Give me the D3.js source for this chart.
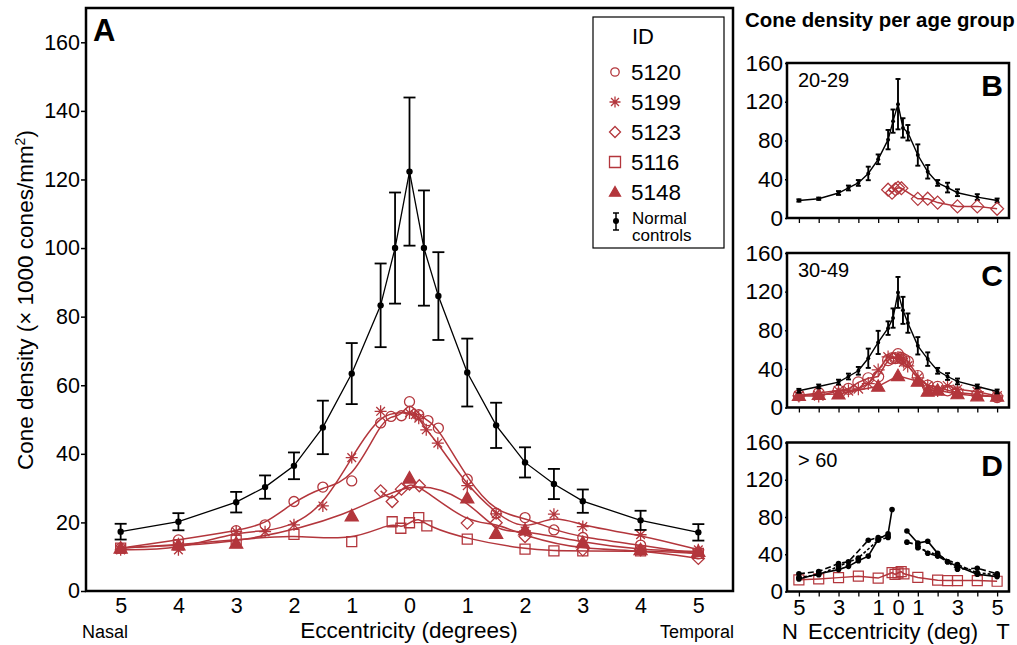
<!DOCTYPE html>
<html>
<head>
<meta charset="utf-8">
<script src="https://cdn.jsdelivr.net/npm/d3@7"></script>
<style>
body { margin: 0; background: #fff; }
text { font-family: "Liberation Sans", Arial, sans-serif; }
</style>
</head>
<body>
<div id="vis"></div>
<script>
var red = "#b3363c";

// normal controls, panel A (eccentricity in deg, nasal negative)
var ctlEcc = [-5, -4, -3, -2.5, -2, -1.5, -1, -0.5, -0.25, 0, 0.25, 0.5, 1, 1.5, 2, 2.5, 3, 4, 5];
var ctlA   = [17.3, 20.2, 25.9, 30.3, 36.5, 47.7, 63.4, 83.3, 100, 122.3, 100, 86, 63.7, 48.3, 37.5, 31.2, 26.2, 20.6, 17.1];
var ctlASd = [2.3, 2.5, 3, 3.4, 3.9, 7.8, 8.9, 12.2, 16.2, 21.6, 16.8, 12.8, 9.9, 6.6, 4.4, 4.4, 3.4, 2.8, 2.4];

// age groups
var ctlB   = [18.1, 19.9, 25.8, 31, 36.2, 46, 60.6, 80.9, 100, 117.5, 93, 88, 65, 47.7, 36.2, 31.4, 26.1, 21.6, 18.1];
var ctlBSd = [1.2, 1.2, 2, 2.5, 3, 7, 5, 10, 12, 26, 10, 8, 11, 7, 3, 5, 3.5, 3, 2];
var ctlC   = [17.3, 21.8, 26.3, 32.1, 38, 51, 67.4, 82.2, 92.6, 119.2, 100.6, 87.4, 63.9, 50.1, 38, 32.1, 27, 21.8, 16.6];
var ctlCSd = [2, 2, 2.5, 3, 4, 10, 12, 7, 10, 16, 14, 10, 9, 7, 3, 3.5, 3, 2, 2];

// > 60 controls (gap at the fovea)
var dSolidEcc = [-5, -4, -3, -2.5, -2, -1.5, -1, -0.5, -0.3, 0, 0.45, 1, 1.5, 2, 2.5, 3, 4, 5];
var dSolidVal = [13.5, 19, 23.5, 27, 33, 38, 56, 62, 88, null, 65, 52, 54, 41, 32, 27, 18.5, 16];
var dDashEcc  = [-5, -4, -3, -2.5, -1.5, -1, -0.5, 0, 0.45, 1, 1.5, 2, 2.5, 3, 4, 5];
var dDashVal  = [19, 21.5, 30, 32, 55, 58, 59.5, null, 53, 50, 41, 38, 32, 24, 25, 19];
var dDotEcc   = [-5, -4, -3, -2, -1, -0.5, 0, 1, 2, 3, 4, 5];
var dDotVal   = [15, 18, 27, 36, 55, 58, null, 47, 39, 29, 20, 18];

// patients
var s5120Ecc = [-5, -4, -3, -2.5, -2, -1.5, -1, -0.5, -0.32, -0.14, 0, 0.16, 0.32, 0.5, 1, 1.5, 2, 2.5, 3, 4, 5];
var s5120Val = [12.5, 14.9, 17.6, 19.3, 26.1, 30.3, 32.1, 49, 50.9, 51.1, 55.2, 51.4, 49.7, 47.5, 32.6, 22.7, 21.4, 17.8, 15.6, 13.4, 10.8];
var s5199Ecc = [-5, -4, -3, -2.5, -2, -1.5, -1, -0.5, 0, 0.1, 0.16, 0.29, 0.49, 1, 1.5, 2, 2.5, 3, 4, 5];
var s5199Val = [12, 12, 17.3, 17.3, 19.3, 24.8, 38.9, 52.4, 51.9, 51.4, 50.4, 47, 43.1, 30.7, 22.5, 17.5, 22.4, 18.8, 16.4, 12];
var s5123Ecc = [-0.5, -0.3, -0.14, 0, 0.17, 1, 1.5, 2, 3, 4, 5];
var s5123Val = [29.2, 26.1, 29.7, 31.2, 30.7, 19.8, 19.9, 15.9, 12, 12, 9.5];
var s5116Ecc = [-5, -4, -3, -2, -1, -0.3, -0.15, 0, 0.16, 0.3, 1, 2, 2.5, 3, 4, 5];
var s5116Val = [12.5, 13.5, 14.9, 16.5, 14.4, 20.2, 18.3, 19.9, 21.4, 19, 15.1, 12.2, 11.7, 11.7, 11.7, 11];
var s5148Ecc = [-5, -4, -3, -1, 0, 1, 1.5, 2, 3, 4, 5];
var s5148Val = [12.5, 13.4, 13.9, 21.9, 32.9, 27.1, 16.8, 17.8, 14.1, 12, 11.5];

var legendIds = ["5120", "5199", "5123", "5116", "5148"];
var legendSym = ["circle", "star", "diamond", "square", "triangle"];
var yTicksA = [0, 20, 40, 60, 80, 100, 120, 140, 160];
var yTicksSmall = [0, 40, 80, 120, 160];
var xTicks = [-5, -4, -3, -2, -1, 0, 1, 2, 3, 4, 5];
var xLabelsD = [-5, -3, -1, 0, 1, 3, 5];

function pts(ecc, val, sd) {
    return ecc.map(function(e, i) { return {x: e, y: val[i], sd: sd ? sd[i] : 0}; });
}

// marker shapes, s = half size
function symPath(type, s) {
    if (type == "circle") return "M" + s + ",0A" + s + "," + s + " 0 1,1 " + (-s) + ",0A" + s + "," + s + " 0 1,1 " + s + ",0Z";
    if (type == "square") return "M" + (-s) + "," + (-s) + "h" + 2 * s + "v" + 2 * s + "h" + (-2 * s) + "Z";
    if (type == "diamond") return "M0," + (-s) + "L" + s + ",0L0," + s + "L" + (-s) + ",0Z";
    if (type == "triangle") return "M0," + (-s) + "L" + s + "," + s * 0.75 + "L" + (-s) + "," + s * 0.75 + "Z";
    var d = s * 0.72;
    return "M0," + (-s) + "V" + s + "M" + (-s) + ",0H" + s +
           "M" + (-d) + "," + (-d) + "L" + d + "," + d + "M" + d + "," + (-d) + "L" + (-d) + "," + d;
}

var w = 1017, h = 645;
var svg = d3.select("#vis").append("svg").attr("width", w).attr("height", h);

/*****************
 PANEL A
*****************/
var x = d3.scaleLinear().domain([-5.6, 5.6]).range([86, 733]);
var y = d3.scaleLinear().domain([0, 170]).range([591, 8]);
var gA = svg.append("g");

gA.append("g")
  .attr("transform", "translate(86,0)")
  .call(d3.axisLeft(y).tickValues(yTicksA).tickSize(5).tickPadding(1))
  .call(function(g) { g.select(".domain").remove(); })
  .selectAll("text").attr("font-size", 21.5).attr("fill", "#000");
gA.append("g")
  .attr("transform", "translate(0,591)")
  .call(d3.axisBottom(x).tickValues(xTicks).tickSize(0).tickPadding(7).tickFormat(function(d) { return Math.abs(d); }))
  .call(function(g) { g.select(".domain").remove(); })
  .selectAll("text").attr("font-size", 21.5).attr("fill", "#000");
gA.selectAll(".tick line").attr("stroke", "#000").attr("stroke-width", 1.5);

gA.append("rect").attr("x", 86).attr("y", 8).attr("width", 733 - 86).attr("height", 591 - 8)
  .attr("fill", "none").attr("stroke", "#000").attr("stroke-width", 2.5);

gA.append("text").attr("x", 93).attr("y", 41).attr("font-size", 31).attr("font-weight", "bold").text("A");

var yt = gA.append("text").attr("transform", "translate(33,300) rotate(-90)")
  .attr("text-anchor", "middle").attr("font-size", 22.5);
yt.append("tspan").text("Cone density (× 1000 cones/mm");
yt.append("tspan").attr("font-size", 14).attr("dy", -8).text("2");
yt.append("tspan").attr("dy", 8).text(")");

gA.append("text").attr("x", 409).attr("y", 638).attr("text-anchor", "middle").attr("font-size", 22.5).text("Eccentricity (degrees)");
gA.append("text").attr("x", 82).attr("y", 638).attr("font-size", 18).text("Nasal");
gA.append("text").attr("x", 734).attr("y", 638).attr("text-anchor", "end").attr("font-size", 18).text("Temporal");

var smooth = d3.line().x(function(d) { return x(d.x); }).y(function(d) { return y(d.y); }).curve(d3.curveBasis);

var patients = [
    {type: "circle", data: pts(s5120Ecc, s5120Val), s: 5},
    {type: "star", data: pts(s5199Ecc, s5199Val), s: 6},
    {type: "diamond", data: pts(s5123Ecc, s5123Val), s: 6},
    {type: "square", data: pts(s5116Ecc, s5116Val), s: 5},
    {type: "triangle", data: pts(s5148Ecc, s5148Val), s: 6.5}
];

patients.forEach(function(p) {
    gA.append("path").datum(p.data).attr("d", smooth)
      .attr("fill", "none").attr("stroke", red).attr("stroke-width", 1.5);
});
patients.forEach(function(p) {
    gA.selectAll(null).data(p.data).enter().append("path")
      .attr("transform", function(d) { return "translate(" + x(d.x) + "," + y(d.y) + ")"; })
      .attr("d", symPath(p.type, p.s))
      .attr("fill", p.type == "triangle" ? red : "none")
      .attr("stroke", red).attr("stroke-width", 1.3);
});

// controls with SD bars
function drawControls(g, data, xs, ys, cap, r, sw) {
    var ln = d3.line().x(function(d) { return xs(d.x); }).y(function(d) { return ys(d.y); });
    g.append("path").datum(data).attr("d", ln).attr("fill", "none").attr("stroke", "#000").attr("stroke-width", sw);
    var bars = g.selectAll(null).data(data).enter().append("g").attr("stroke", "#000").attr("stroke-width", sw + 0.5);
    bars.append("line")
        .attr("x1", function(d) { return xs(d.x); }).attr("x2", function(d) { return xs(d.x); })
        .attr("y1", function(d) { return ys(d.y - d.sd); }).attr("y2", function(d) { return ys(d.y + d.sd); });
    bars.append("line")
        .attr("x1", function(d) { return xs(d.x) - cap; }).attr("x2", function(d) { return xs(d.x) + cap; })
        .attr("y1", function(d) { return ys(d.y + d.sd); }).attr("y2", function(d) { return ys(d.y + d.sd); });
    bars.append("line")
        .attr("x1", function(d) { return xs(d.x) - cap; }).attr("x2", function(d) { return xs(d.x) + cap; })
        .attr("y1", function(d) { return ys(d.y - d.sd); }).attr("y2", function(d) { return ys(d.y - d.sd); });
    g.selectAll(null).data(data).enter().append("circle")
        .attr("cx", function(d) { return xs(d.x); }).attr("cy", function(d) { return ys(d.y); })
        .attr("r", r).attr("fill", "#000");
}
drawControls(gA, pts(ctlEcc, ctlA, ctlASd), x, y, 6, 3.2, 1.3);

// legend
var lg = gA.append("g");
lg.append("rect").attr("x", 593).attr("y", 17).attr("width", 131).attr("height", 231)
  .attr("fill", "#fff").attr("stroke", "#000").attr("stroke-width", 1.2);
lg.append("text").attr("x", 643).attr("y", 44).attr("text-anchor", "middle").attr("font-size", 22).text("ID");
var legY = d3.scalePoint().domain(legendIds).range([72, 192]);
legendIds.forEach(function(id, i) {
    lg.append("path").attr("transform", "translate(615," + legY(id) + ")")
      .attr("d", symPath(legendSym[i], legendSym[i] == "circle" ? 4.2 : 5.5))
      .attr("fill", legendSym[i] == "triangle" ? red : "none").attr("stroke", red).attr("stroke-width", 1.3);
    lg.append("text").attr("x", 631).attr("y", legY(id) + 8).attr("font-size", 22.5).text(id);
});
lg.append("line").attr("x1", 616).attr("x2", 616).attr("y1", 213).attr("y2", 230).attr("stroke", "#000").attr("stroke-width", 1.5);
lg.append("line").attr("x1", 613).attr("x2", 619).attr("y1", 213).attr("y2", 213).attr("stroke", "#000").attr("stroke-width", 1.5);
lg.append("line").attr("x1", 613).attr("x2", 619).attr("y1", 230).attr("y2", 230).attr("stroke", "#000").attr("stroke-width", 1.5);
lg.append("circle").attr("cx", 616).attr("cy", 221).attr("r", 3).attr("fill", "#000");
lg.append("text").attr("x", 632).attr("y", 224).attr("font-size", 17).text("Normal");
lg.append("text").attr("x", 632).attr("y", 241).attr("font-size", 17).text("controls");

/*****************
 PANELS B, C, D
*****************/
svg.append("text").attr("x", 745).attr("y", 27).attr("font-size", 20.4).attr("font-weight", "bold")
   .text("Cone density per age group");

var xs = d3.scaleLinear().domain([-5.6, 5.6]).range([787, 1009]);

function smallPanel(top, bottom, group, letter, showX) {
    var ys = d3.scaleLinear().domain([0, 160]).range([bottom, top]);
    var g = svg.append("g");
    g.append("g").attr("transform", "translate(787,0)")
     .call(d3.axisLeft(ys).tickValues(yTicksSmall).tickSize(2).tickPadding(2))
     .call(function(a) { a.select(".domain").remove(); })
     .selectAll("text").attr("font-size", 22.5).attr("fill", "#000");
    g.append("g").attr("transform", "translate(0," + bottom + ")")
     .call(d3.axisBottom(xs).tickValues(xTicks).tickSize(5).tickPadding(3)
           .tickFormat(function(d) { return showX && xLabelsD.indexOf(d) >= 0 ? Math.abs(d) : ""; }))
     .call(function(a) { a.select(".domain").remove(); })
     .selectAll("text").attr("font-size", 22).attr("fill", "#000");
    g.selectAll(".tick line").attr("stroke", "#000").attr("stroke-width", 1.3);
    g.append("rect").attr("x", 787).attr("y", top).attr("width", 1009 - 787).attr("height", bottom - top)
     .attr("fill", "none").attr("stroke", "#000").attr("stroke-width", 2.5);
    g.append("text").attr("x", 798).attr("y", top + 24).attr("font-size", 20).text(group);
    g.append("text").attr("x", 1003).attr("y", top + 33).attr("text-anchor", "end")
     .attr("font-size", 30).attr("font-weight", "bold").text(letter);
    return {g: g, y: ys};
}

function redSeries(g, ys, type, data, s) {
    var ln = d3.line().x(function(d) { return xs(d.x); }).y(function(d) { return ys(d.y); });
    g.append("path").datum(data).attr("d", ln).attr("fill", "none").attr("stroke", red).attr("stroke-width", 1.5);
    g.selectAll(null).data(data).enter().append("path")
     .attr("transform", function(d) { return "translate(" + xs(d.x) + "," + ys(d.y) + ")"; })
     .attr("d", symPath(type, s))
     .attr("fill", type == "triangle" ? red : "none")
     .attr("stroke", red).attr("stroke-width", 1.2);
}

var pB = smallPanel(63, 218, "20-29", "B", false);
drawControls(pB.g, pts(ctlEcc, ctlB, ctlBSd), xs, pB.y, 2.5, 2, 1.4);
redSeries(pB.g, pB.y, "diamond", pts(s5123Ecc, s5123Val), 6.5);

var pC = smallPanel(253, 407.5, "30-49", "C", false);
redSeries(pC.g, pC.y, "circle", pts(s5120Ecc, s5120Val), 5.5);
redSeries(pC.g, pC.y, "star", pts(s5199Ecc, s5199Val), 6.5);
redSeries(pC.g, pC.y, "triangle", pts(s5148Ecc, s5148Val), 6.5);
drawControls(pC.g, pts(ctlEcc, ctlC, ctlCSd), xs, pC.y, 2.5, 2, 1.4);

var pD = smallPanel(442.5, 591.5, "> 60", "D", true);
redSeries(pD.g, pD.y, "square", pts(s5116Ecc, s5116Val), 5);
[
    {e: dSolidEcc, v: dSolidVal, dash: null},
    {e: dDashEcc, v: dDashVal, dash: "6,3"},
    {e: dDotEcc, v: dDotVal, dash: "3,2"}
].forEach(function(c) {
    var data = pts(c.e, c.v);
    var ln = d3.line().defined(function(d) { return d.y != null; })
               .x(function(d) { return xs(d.x); }).y(function(d) { return pD.y(d.y); });
    pD.g.append("path").datum(data).attr("d", ln).attr("fill", "none")
        .attr("stroke", "#000").attr("stroke-width", 1.6).attr("stroke-dasharray", c.dash);
    pD.g.selectAll(null).data(data.filter(function(d) { return d.y != null; })).enter().append("circle")
        .attr("cx", function(d) { return xs(d.x); }).attr("cy", function(d) { return pD.y(d.y); })
        .attr("r", 2.8).attr("fill", "#000");
});

svg.append("text").attr("x", 790).attr("y", 639).attr("text-anchor", "middle").attr("font-size", 22).text("N");
svg.append("text").attr("x", 893).attr("y", 639).attr("text-anchor", "middle").attr("font-size", 22).text("Eccentricity (deg)");
svg.append("text").attr("x", 1003).attr("y", 639).attr("text-anchor", "middle").attr("font-size", 22).text("T");
</script>
</body>
</html>
